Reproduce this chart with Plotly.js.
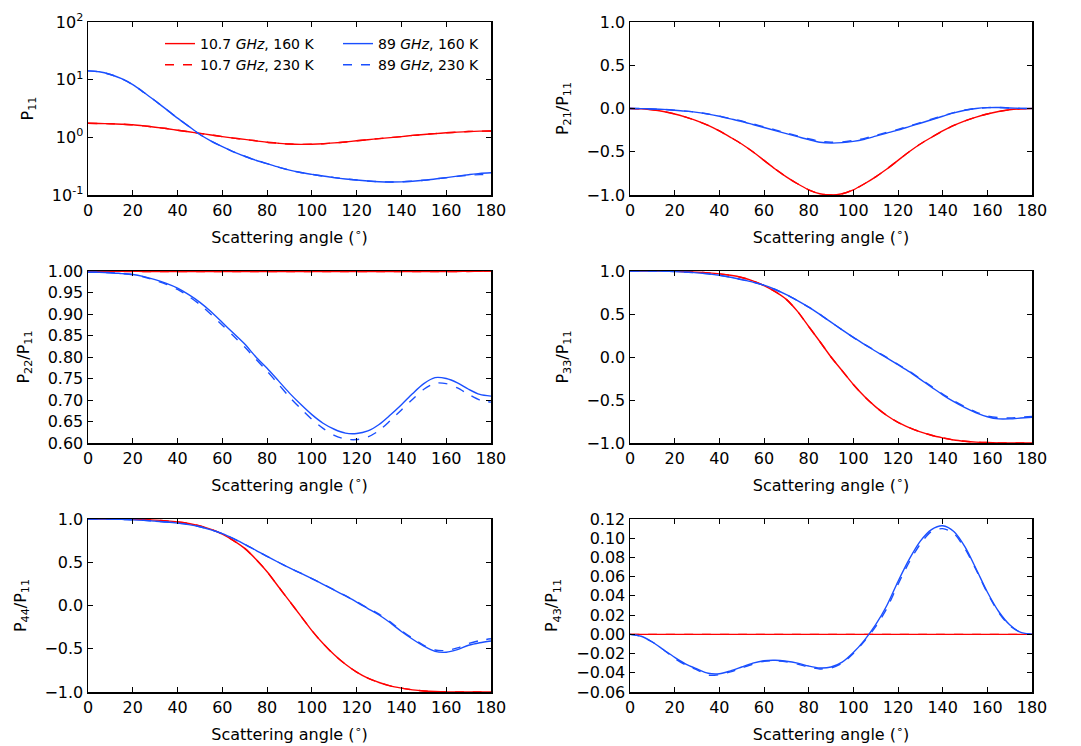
<!DOCTYPE html>
<html>
<head>
<meta charset="utf-8">
<script src="https://cdn.plot.ly/plotly-3.0.1.min.js"></script>
<style>html,body{margin:0;padding:0;background:#fff;}#chart{width:1081px;height:746px;}</style>
</head>
<body>
<div id="chart"></div>
<script>
// Scattering angle grid (degrees)
const angle = [0,5,10,15,20,25,30,35,40,45,50,55,60,65,70,75,80,85,90,95,100,105,110,115,120,125,130,135,140,145,150,155,160,165,170,175,180];

// P11
const p11_107_160 = [1.75,1.74,1.72,1.69,1.65,1.58,1.50,1.42,1.33,1.25,1.17,1.10,1.03,0.97,0.92,0.87,0.82,0.79,0.765,0.755,0.76,0.775,0.80,0.83,0.87,0.91,0.95,0.99,1.03,1.08,1.12,1.16,1.20,1.23,1.26,1.28,1.29];
const p11_107_230 = [1.75,1.74,1.72,1.69,1.65,1.58,1.50,1.42,1.33,1.25,1.17,1.10,1.03,0.97,0.92,0.87,0.82,0.79,0.765,0.755,0.76,0.775,0.80,0.83,0.87,0.91,0.95,0.99,1.03,1.08,1.12,1.16,1.20,1.23,1.26,1.28,1.29];
const p11_89_160 = [14.2,13.7,12.3,10.4,8.2,6.0,4.3,3.05,2.15,1.55,1.12,0.86,0.69,0.56,0.47,0.40,0.35,0.305,0.27,0.245,0.228,0.213,0.200,0.19,0.182,0.175,0.170,0.168,0.169,0.173,0.18,0.19,0.20,0.212,0.225,0.237,0.243];
const p11_89_230 = [14.2,13.7,12.3,10.4,8.2,6.0,4.3,3.05,2.15,1.55,1.12,0.86,0.69,0.56,0.47,0.40,0.35,0.305,0.27,0.245,0.228,0.213,0.200,0.19,0.182,0.175,0.170,0.168,0.169,0.173,0.18,0.19,0.199,0.21,0.22,0.226,0.225];

// P21/P11
const p21_107_160 = [0,-0.004,-0.015,-0.035,-0.063,-0.1,-0.143,-0.196,-0.26,-0.333,-0.41,-0.5,-0.6,-0.7,-0.79,-0.87,-0.94,-0.985,-1.0,-0.985,-0.94,-0.87,-0.79,-0.7,-0.6,-0.5,-0.41,-0.333,-0.26,-0.196,-0.143,-0.1,-0.063,-0.035,-0.015,-0.004,0];
const p21_107_230 = [0,-0.004,-0.015,-0.035,-0.063,-0.1,-0.143,-0.196,-0.26,-0.333,-0.41,-0.5,-0.6,-0.7,-0.79,-0.87,-0.94,-0.985,-1.0,-0.985,-0.94,-0.87,-0.79,-0.7,-0.6,-0.5,-0.41,-0.333,-0.26,-0.196,-0.143,-0.1,-0.063,-0.035,-0.015,-0.004,0];
const p21_89_160 = [0,-0.001,-0.005,-0.01,-0.02,-0.03,-0.045,-0.065,-0.09,-0.12,-0.15,-0.185,-0.22,-0.255,-0.29,-0.325,-0.36,-0.39,-0.40,-0.395,-0.38,-0.355,-0.32,-0.285,-0.25,-0.21,-0.17,-0.13,-0.09,-0.05,-0.02,0.0,0.01,0.012,0.006,0.002,0];
const p21_89_230 = [0,-0.001,-0.005,-0.01,-0.02,-0.03,-0.044,-0.063,-0.087,-0.116,-0.145,-0.178,-0.212,-0.247,-0.282,-0.317,-0.35,-0.378,-0.39,-0.386,-0.37,-0.345,-0.31,-0.276,-0.242,-0.203,-0.163,-0.124,-0.085,-0.047,-0.018,0.001,0.01,0.012,0.006,0.002,0];

// P22/P11
const p22_107_160 = [1.0,0.9995,0.9993,0.9992,0.9991,0.999,0.999,0.999,0.999,0.999,0.999,0.999,0.999,0.999,0.999,0.999,0.999,0.999,0.999,0.999,0.999,0.999,0.999,0.999,0.999,0.999,0.999,0.999,0.999,0.999,0.999,0.999,0.999,0.999,0.9992,0.9995,1.0];
const p22_107_230 = [1.0,0.9994,0.999,0.9988,0.9986,0.9985,0.9985,0.9985,0.9985,0.9985,0.9985,0.9985,0.9985,0.9985,0.9985,0.9985,0.9985,0.9985,0.9985,0.9985,0.9985,0.9985,0.9985,0.9985,0.9985,0.9985,0.9985,0.9985,0.9985,0.9985,0.9985,0.9985,0.9986,0.9988,0.999,0.9994,1.0];
const p22_89_160 = [0.997,0.997,0.996,0.994,0.992,0.987,0.98,0.971,0.96,0.945,0.927,0.905,0.88,0.855,0.83,0.80,0.774,0.745,0.716,0.69,0.666,0.646,0.632,0.623,0.622,0.628,0.643,0.665,0.689,0.715,0.738,0.752,0.75,0.74,0.725,0.713,0.709];
const p22_89_230 = [0.997,0.997,0.996,0.994,0.991,0.986,0.978,0.969,0.957,0.941,0.922,0.899,0.874,0.849,0.823,0.795,0.767,0.737,0.707,0.68,0.655,0.634,0.618,0.609,0.608,0.614,0.629,0.652,0.677,0.702,0.725,0.739,0.738,0.728,0.713,0.700,0.695];

// P33/P11
const p33_107_160 = [1,1,0.999,0.998,0.996,0.992,0.986,0.978,0.967,0.95,0.925,0.885,0.83,0.76,0.67,0.53,0.355,0.18,0.0,-0.16,-0.32,-0.46,-0.58,-0.68,-0.76,-0.82,-0.87,-0.91,-0.94,-0.965,-0.98,-0.99,-0.995,-0.998,-1,-1,-1];
const p33_107_230 = [1,1,0.999,0.998,0.996,0.992,0.986,0.978,0.967,0.95,0.925,0.885,0.83,0.76,0.67,0.53,0.355,0.18,0.0,-0.16,-0.32,-0.46,-0.58,-0.68,-0.76,-0.82,-0.87,-0.91,-0.94,-0.965,-0.98,-0.99,-0.995,-0.998,-1,-1,-1];
const p33_89_160 = [1,1,0.999,0.997,0.993,0.987,0.978,0.966,0.95,0.928,0.9,0.87,0.835,0.785,0.725,0.655,0.58,0.495,0.405,0.315,0.228,0.147,0.067,-0.01,-0.09,-0.17,-0.26,-0.35,-0.44,-0.52,-0.59,-0.65,-0.695,-0.72,-0.72,-0.71,-0.70];
const p33_89_230 = [1,1,0.999,0.997,0.993,0.987,0.978,0.966,0.95,0.928,0.9,0.87,0.835,0.785,0.725,0.655,0.58,0.495,0.405,0.315,0.228,0.147,0.07,-0.005,-0.085,-0.165,-0.252,-0.342,-0.43,-0.51,-0.58,-0.64,-0.685,-0.705,-0.71,-0.70,-0.69];

// P44/P11
const p44_107_160 = [1,1,0.999,0.998,0.996,0.993,0.987,0.978,0.966,0.948,0.92,0.88,0.825,0.75,0.66,0.535,0.39,0.22,0.05,-0.12,-0.29,-0.44,-0.57,-0.68,-0.77,-0.84,-0.89,-0.93,-0.955,-0.975,-0.988,-0.995,-0.998,-1,-1,-1,-1];
const p44_107_230 = [1,1,0.999,0.998,0.996,0.993,0.987,0.978,0.966,0.948,0.92,0.88,0.825,0.75,0.66,0.535,0.39,0.22,0.05,-0.12,-0.29,-0.44,-0.57,-0.68,-0.77,-0.84,-0.89,-0.93,-0.955,-0.975,-0.988,-0.995,-0.998,-1,-1,-1,-1];
const p44_89_160 = [1,1,0.999,0.996,0.99,0.984,0.975,0.965,0.952,0.935,0.91,0.875,0.83,0.772,0.708,0.638,0.567,0.5,0.436,0.373,0.31,0.245,0.178,0.11,0.04,-0.035,-0.11,-0.2,-0.30,-0.39,-0.47,-0.53,-0.54,-0.51,-0.46,-0.43,-0.41];
const p44_89_230 = [1,1,0.999,0.996,0.99,0.984,0.975,0.965,0.952,0.935,0.91,0.875,0.83,0.772,0.708,0.638,0.567,0.5,0.436,0.373,0.31,0.245,0.18,0.113,0.045,-0.03,-0.10,-0.19,-0.29,-0.38,-0.46,-0.515,-0.52,-0.49,-0.44,-0.405,-0.385];

// P43/P11
const p43_107_160 = [0,0,0,0,0,0,0,0,0,0,0,0,0,0,0,0,0,0,0,0,0,0,0,0,0,0,0,0,0,0,0,0,0,0,0,0,0];
const p43_107_230 = [0,0,0,0,0,0,0,0,0,0,0,0,0,0,0,0,0,0,0,0,0,0,0,0,0,0,0,0,0,0,0,0,0,0,0,0,0];
const p43_89_160 = [0,-0.002,-0.008,-0.016,-0.024,-0.031,-0.036,-0.0405,-0.041,-0.038,-0.034,-0.030,-0.0275,-0.027,-0.028,-0.030,-0.033,-0.035,-0.034,-0.029,-0.019,-0.006,0.010,0.030,0.055,0.078,0.097,0.109,0.113,0.107,0.091,0.068,0.044,0.024,0.010,0.002,0];
const p43_89_230 = [0,-0.002,-0.008,-0.016,-0.025,-0.032,-0.037,-0.0425,-0.042,-0.039,-0.035,-0.031,-0.028,-0.0275,-0.0285,-0.031,-0.034,-0.036,-0.035,-0.030,-0.020,-0.007,0.008,0.027,0.052,0.075,0.094,0.107,0.110,0.105,0.089,0.067,0.043,0.023,0.009,0.002,0];

// Labels
const seriesNames = ["10.7 <i>GHz</i>, 160 K", "10.7 <i>GHz</i>, 230 K", "89 <i>GHz</i>, 160 K", "89 <i>GHz</i>, 230 K"];
const xTitle = "Scattering angle (<sup>∘</sup>)";
const yTitles = ["P<sub>11</sub>", "P<sub>21</sub>/P<sub>11</sub>", "P<sub>22</sub>/P<sub>11</sub>", "P<sub>33</sub>/P<sub>11</sub>", "P<sub>44</sub>/P<sub>11</sub>", "P<sub>43</sub>/P<sub>11</sub>"];
const logTickVals = [0.1, 1, 10, 100];
const logTickText = ["10<sup>-1</sup>", "10<sup>0</sup>", "10<sup>1</sup>", "10<sup>2</sup>"];

const RED = "#ff0000", BLUE = "#1a4fff";
const panels = [
  [p11_107_160, p11_107_230, p11_89_160, p11_89_230],
  [p21_107_160, p21_107_230, p21_89_160, p21_89_230],
  [p22_107_160, p22_107_230, p22_89_160, p22_89_230],
  [p33_107_160, p33_107_230, p33_89_160, p33_89_230],
  [p44_107_160, p44_107_230, p44_89_160, p44_89_230],
  [p43_107_160, p43_107_230, p43_89_160, p43_89_230]
];
const styles = [
  {color: RED, dash: "solid"}, {color: RED, dash: "dash"},
  {color: BLUE, dash: "solid"}, {color: BLUE, dash: "dash"}
];

const traces = [];
panels.forEach((arrs, p) => {
  const ax = p === 0 ? "" : String(p + 1);
  arrs.forEach((ys, s) => {
    traces.push({
      x: angle, y: ys, type: "scatter", mode: "lines",
      xaxis: "x" + ax, yaxis: "y" + ax,
      name: seriesNames[s],
      showlegend: p === 0,
      legend: s < 2 ? "legend" : "legend2",
      line: {color: styles[s].color, dash: styles[s].dash, width: 1.4, shape: "spline", smoothing: 0.8}
    });
  });
});

const W = 1081, H = 746;
const xDomL = [88 / W, 491 / W], xDomR = [630 / W, 1032 / W];
const rows = [[22, 195], [271, 443], [519, 692]];
const yDom = rows.map(r => [1 - r[1] / H, 1 - r[0] / H]);

const font = {family: "DejaVu Sans, Verdana, sans-serif", size: 16, color: "#000"};
function xAxis(dom, anchor) {
  return {domain: dom, anchor: anchor, range: [0, 180], dtick: 20, tick0: 0,
    ticks: "inside", ticklen: 5, tickwidth: 1, tickcolor: "#000",
    showline: true, linecolor: "#000", linewidth: 1.5, mirror: "allticks",
    showgrid: false, zeroline: false, tickfont: font,
    title: {text: xTitle, font: font, standoff: 13}};
}
function yAxis(dom, anchor, range, dtick, tickformat, title) {
  return {domain: dom, anchor: anchor, range: range, dtick: dtick, tickformat: tickformat,
    ticks: "inside", ticklen: 5, tickwidth: 1, tickcolor: "#000",
    showline: true, linecolor: "#000", linewidth: 1.5, mirror: "allticks",
    showgrid: false, zeroline: false, tickfont: font,
    title: {text: title, font: font, standoff: 14}};
}

const layout = {
  width: W, height: H,
  margin: {l: 0, r: 0, t: 0, b: 0},
  paper_bgcolor: "#fff", plot_bgcolor: "#fff",
  font: font,
  xaxis: xAxis(xDomL, "y"),
  yaxis: Object.assign(yAxis(yDom[0], "x", [-1, 2], null, null, yTitles[0]),
    {type: "log", tickvals: logTickVals, ticktext: logTickText}),
  xaxis2: xAxis(xDomR, "y2"),
  yaxis2: yAxis(yDom[0], "x2", [-1, 1], 0.5, ".1f", yTitles[1]),
  xaxis3: xAxis(xDomL, "y3"),
  yaxis3: yAxis(yDom[1], "x3", [0.6, 1.0], 0.05, ".2f", yTitles[2]),
  xaxis4: xAxis(xDomR, "y4"),
  yaxis4: yAxis(yDom[1], "x4", [-1, 1], 0.5, ".1f", yTitles[3]),
  xaxis5: xAxis(xDomL, "y5"),
  yaxis5: yAxis(yDom[2], "x5", [-1, 1], 0.5, ".1f", yTitles[4]),
  xaxis6: xAxis(xDomR, "y6"),
  yaxis6: yAxis(yDom[2], "x6", [-0.06, 0.12], 0.02, ".2f", yTitles[5]),
  legend: {x: 160 / W, y: 1 - 28 / H, xanchor: "left", yanchor: "top",
    bgcolor: "rgba(0,0,0,0)", font: {family: font.family, size: 14, color: "#000"},
    tracegroupgap: 0, itemwidth: 30},
  legend2: {x: 338 / W, y: 1 - 28 / H, xanchor: "left", yanchor: "top",
    bgcolor: "rgba(0,0,0,0)", font: {family: font.family, size: 14, color: "#000"},
    tracegroupgap: 0, itemwidth: 30},
  showlegend: true
};

Plotly.newPlot("chart", traces, layout, {staticPlot: true, displayModeBar: false});
</script>
</body>
</html>
